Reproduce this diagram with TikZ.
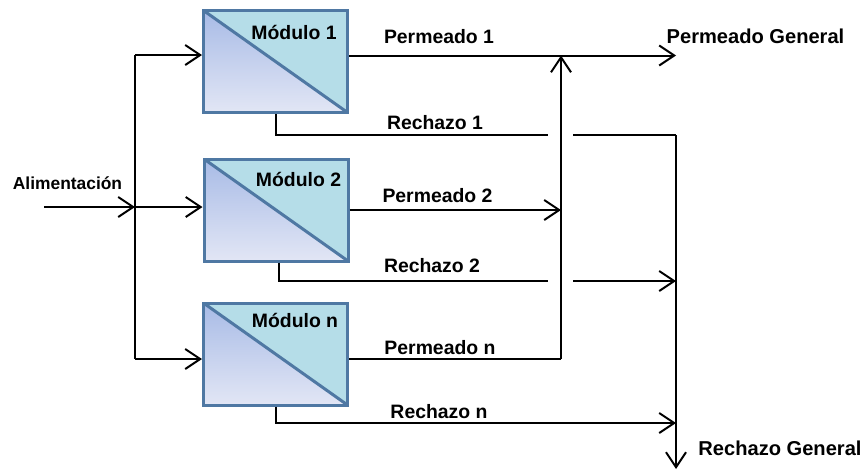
\documentclass[tikz,border=0pt]{standalone}
\usepackage{fontspec}
\setmainfont{Liberation Sans}
\usetikzlibrary{arrows.meta}
\definecolor{borde}{HTML}{4F78A3}
\definecolor{celeste}{HTML}{B5DDE8}
\definecolor{azul}{HTML}{A8BBE6}
\definecolor{lila}{HTML}{E2E6F5}
\tikzstyle{modulo}=[draw=borde,line width=3pt,fill=celeste,minimum width=144pt,minimum height=102pt,inner sep=0pt,
  path picture={
    \shade [top color=azul,bottom color=lila] (path picture bounding box.north west) -- (path picture bounding box.south east) -- (path picture bounding box.south west) -- cycle;
    \draw [borde,line width=3pt] (path picture bounding box.north west) -- (path picture bounding box.south east);
  }]
\tikzstyle{rotulo}=[font=\fontsize{19.4}{21}\selectfont\bfseries,inner sep=0pt]
\tikzstyle{entrada}=[font=\fontsize{17.4}{19}\selectfont\bfseries,inner sep=0pt]
\tikzstyle{general}=[font=\fontsize{20.1}{22}\selectfont\bfseries,inner sep=0pt]
\tikzstyle{linea}=[line width=2pt,black]
\tikzstyle{flecha}=[linea,-{Straight Barb[length=15pt,width=20pt,line width=2pt]}]

\begin{document}
\begin{tikzpicture}[x=1pt,y=-1pt]
\useasboundingbox (0,0) rectangle (865,472);
% modulos
\node [modulo] (mod1) at (275.5,61.5) {};
\node [modulo] (mod2) at (276,210) {};
\node [modulo] (modn) at (275.5,354) {};
\node [rotulo] (tmod1) at (294,32) {Módulo 1};
\node [rotulo] (tmod2) at (298.5,179) {Módulo 2};
\node [rotulo] (tmodn) at (295,320) {Módulo n};
% textos
\node [entrada] (talim) at (67.5,183) {Alimentación};
\node [rotulo] (tper1) at (439,37) {Permeado 1};
\node [rotulo] (tper2) at (437.5,196) {Permeado 2};
\node [rotulo] (tpern) at (440,348) {Permeado n};
\node [rotulo] (trec1) at (435,123) {Rechazo 1};
\node [rotulo] (trec2) at (432,266) {Rechazo 2};
\node [rotulo] (trecn) at (439,412) {Rechazo n};
\node [general] (tpergen) at (755.5,36) {Permeado General};
\node [general] (trecgen) at (780,448) {Rechazo General};
% puntos de union
\coordinate (alim) at (44,207);
\coordinate (ent1) at (135,55);
\coordinate (ent2) at (135,207);
\coordinate (entn) at (135,359);
\coordinate (per1) at (561,55.5);
\coordinate (per2) at (561,210);
\coordinate (pern) at (561,359);
\coordinate (pergen) at (676,55.5);
\coordinate (rec1) at (276,135);
\coordinate (rec2) at (278.5,281);
\coordinate (recn) at (276,423);
\coordinate (corte1a) at (548,135);
\coordinate (corte1b) at (573,135);
\coordinate (corte2a) at (548,281);
\coordinate (corte2b) at (573,281);
\coordinate (rec1col) at (676,135);
\coordinate (rec2col) at (676,281);
\coordinate (recncol) at (676,423);
\coordinate (recgen) at (676,469);
% alimentacion
\draw [flecha] (alim) -- (ent2);
\draw [linea] (ent1) -- (entn);
\draw [flecha] (ent1) -- (mod1.west |- ent1);
\draw [flecha] (ent2) -- (mod2.west |- ent2);
\draw [flecha] (entn) -- (modn.west |- entn);
% permeado
\draw [flecha] (mod1.east |- per1) -- (pergen);
\draw [flecha] (mod2.east |- per2) -- (per2);
\draw [linea] (modn.east |- pern) -- (pern);
\draw [flecha] (pern) -- (per1);
% rechazo
\draw [linea] (mod1.south -| rec1) -- (rec1) -- (corte1a);
\draw [linea] (mod2.south -| rec2) -- (rec2) -- (corte2a);
\draw [flecha] (modn.south -| recn) -- (recn) -- (recncol);
\draw [linea] (corte1b) -- (rec1col);
\draw [flecha] (corte2b) -- (rec2col);
\draw [flecha] (rec1col) -- (recgen);
\end{tikzpicture}
\end{document}
